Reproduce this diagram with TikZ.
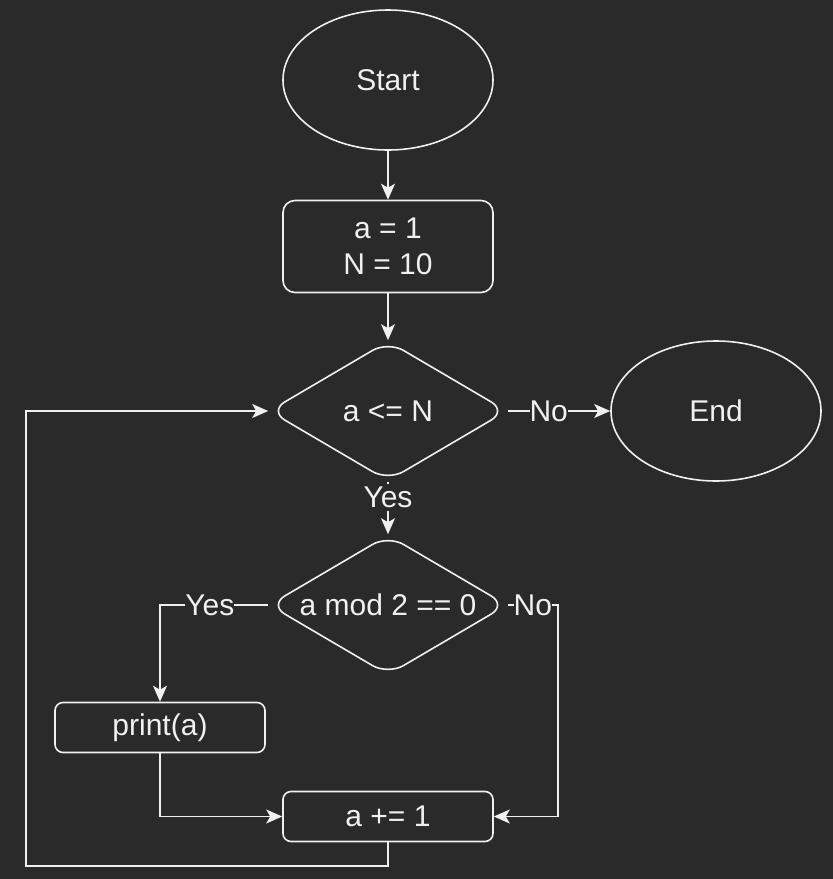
\documentclass[tikz,border=0pt]{standalone}
\usepackage{fontspec}
\setmainfont{Liberation Sans}
\usetikzlibrary{shapes.geometric,arrows.meta}
\definecolor{bg}{HTML}{2A2A2A}
\definecolor{fg}{HTML}{F0F0F0}
\begin{document}
\begin{tikzpicture}[x=1pt,y=-1pt,
  every node/.style={text=fg,font=\fontsize{30}{36}\selectfont},
  term/.style={ellipse,draw=fg,line width=1.6pt,fill=bg,minimum width=210pt,minimum height=140pt,inner sep=0pt},
  procbox/.style={rectangle,draw=fg,line width=1.6pt,fill=bg,minimum width=210pt,minimum height=50pt,rounded corners=8pt,inner sep=0pt,align=center},
  decbox/.style={diamond,draw=fg,line width=1.6pt,fill=bg,minimum width=238pt,minimum height=140pt,aspect=1.7,inner sep=0pt,rounded corners=18pt},
  conn/.style={draw=fg,line width=1.6pt,-{Stealth[length=16pt,width=14pt,inset=4pt]}},
  lbl/.style={fill=bg,inner xsep=0pt,inner ysep=3pt}
]
\fill[bg] (0,0) rectangle (833,879);
\useasboundingbox (0,0) rectangle (833,879);

\node[term] (start) at (388,80) {Start};
\node[procbox,minimum height=92pt,rounded corners=12pt] (init) at (388,246.5) {a = 1\\N = 10};
\node[decbox] (d1) at (388,411) {a <= N};
\node[term] (end) at (716,411) {End};
\node[decbox] (d2) at (388,605) {a mod 2 == 0};
\node[procbox] (print) at (160,727.5) {print(a)};
\node[procbox] (inc) at (388,816.5) {a += 1};

\coordinate (nr) at (558,605);
\coordinate (lb) at (26,866);

\draw[conn] (start) -- (init);
\draw[conn] (init) -- (d1);
\draw[conn] (d1.east) -- node[lbl,pos=0.4] {No} (end.west);
\draw[conn] (d1.south) -- node[lbl,pos=0.3] {Yes} (d2.north);
\draw[conn] (d2.west) -| node[lbl,pos=0.27] {Yes} (print.north);
\draw[conn] (d2.east) -- node[lbl] {No} (nr) |- (inc.east);
\draw[conn] (print.south) |- (inc.west);
\draw[conn] (inc.south) |- (lb) |- (d1.west);
\end{tikzpicture}
\end{document}
